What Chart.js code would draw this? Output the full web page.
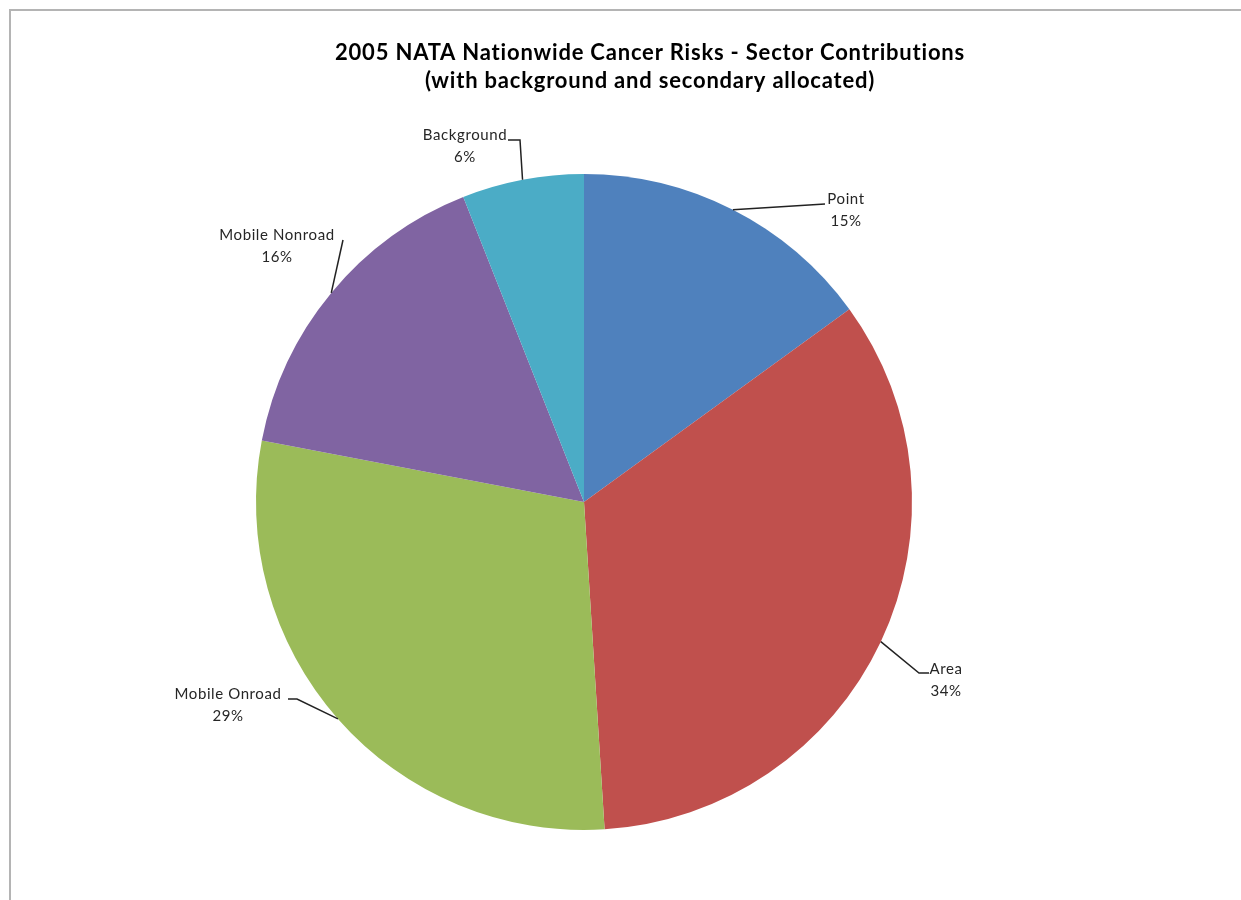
<!DOCTYPE html>
<html>
<head>
<meta charset="utf-8">
<script src="https://cdn.jsdelivr.net/npm/chart.js@4.4.1/dist/chart.umd.min.js"></script>
<style>
html,body{margin:0;padding:0;background:#fff;}
#wrap{width:1241px;height:900px;position:relative;}
</style>
</head>
<body>
<div id="wrap"><canvas id="c" width="1241" height="900"></canvas></div>
<script>
const titleLines = ['2005 NATA Nationwide Cancer Risks - Sector Contributions', '(with background and secondary allocated)'];
const categories = ['Point', 'Area', 'Mobile Onroad', 'Mobile Nonroad', 'Background'];
const shares = [15, 34, 29, 16, 6];
const colors = ['#4F81BD', '#C0504D', '#9BBB59', '#8064A2', '#4BACC6'];

// label layout (text block centre, leader anchor and elbow), indexed like categories
const labelLayout = [
  {x: 846, y: 199, anchor: [825, 204], elbow: null},
  {x: 946, y: 669, anchor: [929, 673], elbow: [919, 673]},
  {x: 228, y: 694, anchor: [288, 699], elbow: [297, 699]},
  {x: 277, y: 235, anchor: [343, 240], elbow: null},
  {x: 465, y: 135, anchor: [508, 140], elbow: [520, 140]}
];

const FONT = 'Lato, "Open Sans", sans-serif';

const decor = {
  id: 'decor',
  beforeDraw(chart) {
    const ctx = chart.ctx;
    ctx.save();
    ctx.fillStyle = '#fff';
    ctx.fillRect(0, 0, chart.width, chart.height);
    ctx.strokeStyle = '#b4b4b4';
    ctx.lineWidth = 2;
    ctx.strokeRect(10, 10, 1400, 1200);
    ctx.restore();
  },
  afterDraw(chart) {
    const ctx = chart.ctx;
    ctx.save();
    // title
    ctx.fillStyle = '#000';
    ctx.textAlign = 'center';
    ctx.textBaseline = 'middle';
    ctx.font = 'bold 22px ' + FONT;
    ctx.letterSpacing = '0.8px';
    ctx.fillText(titleLines[0], 650, 53);
    ctx.fillText(titleLines[1], 650, 81);
    // labels with leader lines
    const meta = chart.getDatasetMeta(0);
    meta.data.forEach((arc, i) => {
      const p = arc.getProps(['x', 'y', 'startAngle', 'endAngle', 'outerRadius'], true);
      const mid = (p.startAngle + p.endAngle) / 2;
      const sx = p.x + Math.cos(mid) * p.outerRadius;
      const sy = p.y + Math.sin(mid) * p.outerRadius;
      const L = labelLayout[i];
      ctx.strokeStyle = '#222';
      ctx.lineWidth = 1.5;
      ctx.beginPath();
      ctx.moveTo(sx, sy);
      if (L.elbow) ctx.lineTo(L.elbow[0], L.elbow[1]);
      ctx.lineTo(L.anchor[0], L.anchor[1]);
      ctx.stroke();
      ctx.fillStyle = '#262626';
      ctx.font = '15px ' + FONT;
      ctx.letterSpacing = '0.6px';
      ctx.textAlign = 'center';
      ctx.fillText(categories[i], L.x, L.y);
      ctx.fillText(Math.round(shares[i]) + '%', L.x, L.y + 22);
    });
    ctx.restore();
  }
};

new Chart(document.getElementById('c'), {
  type: 'pie',
  data: {
    labels: categories,
    datasets: [{
      data: shares,
      backgroundColor: colors,
      borderWidth: 0
    }]
  },
  options: {
    responsive: false,
    animation: false,
    layout: {padding: {left: 256, right: 329, top: 174, bottom: 70}},
    plugins: {legend: {display: false}, tooltip: {enabled: false}, title: {display: false}}
  },
  plugins: [decor]
});
</script>
</body>
</html>
